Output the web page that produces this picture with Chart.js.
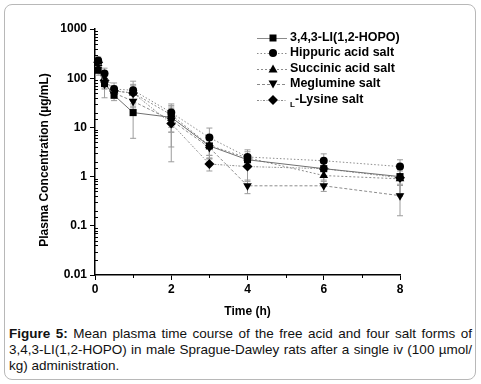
<!DOCTYPE html>
<html>
<head>
<meta charset="utf-8">
<script src="https://cdn.jsdelivr.net/npm/chart.js@4/dist/chart.umd.min.js"></script>
<style>
  html, body { margin: 0; padding: 0; background: #fff; }
  body { width: 481px; height: 384px; position: relative; overflow: hidden; font-family: "Liberation Sans", Arial, sans-serif; }
  #frame { position: absolute; left: 4px; top: 4px; width: 470px; height: 374px; border: 1.5px solid #b8b8b8; border-radius: 8px; }
  #wrap { position: absolute; left: 0; top: 0; width: 481px; height: 322px; }
  #caption { position: absolute; left: 9px; top: 326px; width: 463px; font-size: 13.5px; line-height: 16px; color: #111; text-align: justify; }
</style>
</head>
<body>
<div id="frame"></div>
<div id="wrap"><canvas id="pkChart" width="481" height="322"></canvas></div>
<div id="caption"><b>Figure 5:</b> Mean plasma time course of the free acid and four salt forms of 3,4,3-LI(1,2-HOPO) in male Sprague-Dawley rats after a single iv (100 µmol/ kg) administration.</div>
<script>
// времена отбора (ч)
const times = [0.083, 0.25, 0.5, 1, 2, 3, 4, 6, 8];

const seriesNames = ["3,4,3-LI(1,2-HOPO)", "Hippuric acid salt", "Succinic acid salt", "Meglumine salt", "-Lysine salt"];

// средние концентрации (мкг/мл)
const lihopo    = [145, 78, 45, 20, 16, 4.2, 2.2, 1.45, 1.0];
const hippuric  = [230, 125, 60, 57, 20, 6.2, 2.5, 2.1, 1.6];
const succinic  = [200, 100, 55, 50, 18, 4.3, 2.4, 1.05, 0.9];
const meglumine = [190, 75, 50, 34, 14, 3.9, 0.65, 0.65, 0.41];
const lysine    = [210, 90, 55, 50, 12, 1.8, 1.6, 1.45, 0.95];

// стандартные отклонения
const lihopoSd    = [30, 15, 10, 14, 8, 1.5, 0.6, 0.4, 0.3];
const hippuricSd  = [40, 35, 20, 30, 10, 3.5, 1.0, 0.8, 0.6];
const succinicSd  = [30, 25, 12, 20, 10, 2, 0.8, 0.4, 0.5];
const meglumineSd = [35, 35, 10, 15, 12, 1.5, 0.2, 0.15, 0.25];
const lysineSd    = [40, 30, 15, 25, 8, 0.5, 0.8, 0.6, 0.5];

const yTickLabels = ["0.01", "0.1", "1", "10", "100", "1000"];
const xTickLabels = ["0", "2", "4", "6", "8"];

const means = [lihopo, hippuric, succinic, meglumine, lysine];
const errors = [lihopoSd, hippuricSd, succinicSd, meglumineSd, lysineSd];
const markers = ["rect", "circle", "triangle", "triangleDown", "rectRot"];
const dashes = [[], [1.5, 2], [2, 2], [3, 2], [2, 1.5, 1, 1.5]];

const FONT = '"Liberation Sans", Arial, sans-serif';

function isDecade(v) {
  const l = Math.log10(v);
  return Math.abs(l - Math.round(l)) < 1e-6;
}

// рисуем маркер вручную (для легенды)
function drawMarker(ctx, style, x, y) {
  ctx.beginPath();
  if (style === "rect") {
    ctx.rect(x - 3.5, y - 3.5, 7, 7);
  } else if (style === "circle") {
    ctx.arc(x, y, 4, 0, Math.PI * 2);
  } else if (style === "triangle") {
    ctx.moveTo(x, y - 4.5); ctx.lineTo(x + 4.5, y + 3.5); ctx.lineTo(x - 4.5, y + 3.5);
  } else if (style === "triangleDown") {
    ctx.moveTo(x, y + 4.5); ctx.lineTo(x + 4.5, y - 3.5); ctx.lineTo(x - 4.5, y - 3.5);
  } else {
    ctx.moveTo(x, y - 5); ctx.lineTo(x + 5, y); ctx.lineTo(x, y + 5); ctx.lineTo(x - 5, y);
  }
  ctx.closePath();
  ctx.fill();
}

// усы ошибок
const errorBars = {
  id: "errorBars",
  beforeDatasetsDraw(chart) {
    const { ctx, scales: { x, y } } = chart;
    ctx.save();
    ctx.strokeStyle = "#9c9c9c";
    ctx.lineWidth = 1;
    means.forEach((vals, i) => {
      vals.forEach((v, j) => {
        const sd = errors[i][j];
        const px = x.getPixelForValue(times[j]);
        const top = y.getPixelForValue(v + sd);
        const bot = y.getPixelForValue(Math.max(v - sd, 0.011));
        ctx.beginPath();
        ctx.moveTo(px, top); ctx.lineTo(px, bot);
        ctx.moveTo(px - 3, top); ctx.lineTo(px + 3, top);
        ctx.moveTo(px - 3, bot); ctx.lineTo(px + 3, bot);
        ctx.stroke();
      });
    });
    ctx.restore();
  },
};

// малые деления, подпись оси Y и легенда
const extras = {
  id: "extras",
  afterDraw(chart) {
    const { ctx, scales: { x, y } } = chart;
    ctx.save();
    ctx.strokeStyle = "#000";
    ctx.lineWidth = 1;
    y.ticks.forEach((t) => {
      if (isDecade(t.value)) return;
      const py = Math.round(y.getPixelForValue(t.value)) + 0.5;
      ctx.beginPath();
      ctx.moveTo(x.left, py); ctx.lineTo(x.left + 3, py);
      ctx.stroke();
    });
    x.ticks.forEach((t) => {
      if (t.value % 2 === 0) return;
      const px = Math.round(x.getPixelForValue(t.value)) + 0.5;
      ctx.beginPath();
      ctx.moveTo(px, y.bottom); ctx.lineTo(px, y.bottom + 3);
      ctx.stroke();
    });

    // подпись оси Y
    ctx.save();
    ctx.translate(45, 160);
    ctx.rotate(-Math.PI / 2);
    ctx.fillStyle = "#000";
    ctx.font = "bold 12px " + FONT;
    ctx.textAlign = "center";
    ctx.textBaseline = "middle";
    ctx.fillText("Plasma Concentration (µg/mL)", 0, 0);
    ctx.restore();

    // легенда
    const lx = 257, tx = 290;
    const rows = [38, 53, 69, 84, 100];
    ctx.textBaseline = "middle";
    seriesNames.forEach((name, i) => {
      const ly = rows[i];
      ctx.strokeStyle = "#8a8a8a";
      ctx.setLineDash(dashes[i]);
      ctx.beginPath();
      ctx.moveTo(lx, ly + 0.5); ctx.lineTo(lx + 30, ly + 0.5);
      ctx.stroke();
      ctx.setLineDash([]);
      ctx.fillStyle = "#000";
      drawMarker(ctx, markers[i], lx + 16, ly);
      ctx.font = "bold 12.5px " + FONT;
      if (i === 4) {
        ctx.font = "bold 8px " + FONT;
        ctx.fillText("L", tx, ly + 5);
        ctx.font = "bold 12.5px " + FONT;
        ctx.fillText(name, tx + 5, ly);
      } else {
        ctx.fillText(name, tx, ly);
      }
    });
    ctx.restore();
  },
};

const datasets = means.map((vals, i) => ({
  label: seriesNames[i],
  data: vals.map((v, j) => ({ x: times[j], y: v })),
  borderColor: i === 0 ? "#707070" : "#8c8c8c",
  borderWidth: 1,
  borderDash: dashes[i],
  backgroundColor: "#000",
  pointBackgroundColor: "#000",
  pointBorderColor: "#000",
  pointBorderWidth: 0,
  pointStyle: markers[i] === "triangleDown" ? "triangle" : markers[i],
  pointRotation: markers[i] === "triangleDown" ? 180 : 0,
  pointRadius: markers[i] === "circle" ? 4 : 5,
  tension: 0,
  clip: false,
}));

const ctx = document.getElementById("pkChart").getContext("2d");

new Chart(ctx, {
  type: "line",
  data: { datasets: datasets },
  plugins: [errorBars, extras],
  options: {
    responsive: false,
    animation: false,
    layout: { padding: { left: 37, right: 81, top: 29, bottom: 0 } },
    plugins: { legend: { display: false }, tooltip: { enabled: false } },
    scales: {
      x: {
        type: "linear",
        min: 0,
        max: 8,
        afterFit: (s) => { s.height = 47; },
        border: { color: "#000", width: 1.5 },
        grid: { drawOnChartArea: false, tickLength: 5, tickColor: (c) => (c.tick && c.tick.value % 2 === 0 ? "#000" : "rgba(0,0,0,0)") },
        ticks: {
          stepSize: 1,
          autoSkip: false,
          maxRotation: 0,
          padding: 2,
          color: "#000",
          font: { family: FONT, size: 12, weight: "bold" },
          callback: (v) => (v % 2 === 0 ? xTickLabels[v / 2] : ""),
        },
        title: { display: true, text: "Time (h)", color: "#000", font: { family: FONT, size: 12, weight: "bold" }, padding: { top: 0, bottom: 3 } },
      },
      y: {
        type: "logarithmic",
        min: 0.01,
        max: 1000,
        afterFit: (s) => { s.width = 58; },
        border: { color: "#000", width: 1.5 },
        grid: { drawOnChartArea: false, tickLength: 5, tickColor: (c) => (c.tick && isDecade(c.tick.value) ? "#000" : "rgba(0,0,0,0)") },
        ticks: {
          autoSkip: false,
          padding: 3,
          color: "#000",
          font: { family: FONT, size: 12, weight: "bold" },
          callback: (v) => (isDecade(v) ? yTickLabels[Math.round(Math.log10(v)) + 2] : ""),
        },
      },
    },
  },
});
</script>
</body>
</html>
